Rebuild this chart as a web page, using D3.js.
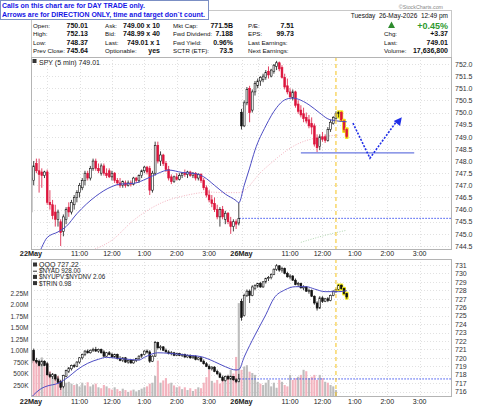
<!DOCTYPE html>
<html lang="en">
<head>
<meta charset="utf-8">
<script src="https://d3js.org/d3.v7.min.js"></script>
<title>SPY 5 min</title>
<style>
  body { margin: 0; background: #fff; }
  svg { display: block; font-family: "Liberation Sans", Arial, sans-serif; }
  .pre { white-space: pre; }
</style>
</head>
<body>
<svg width="480" height="406"></svg>
<script>
// ---- data ----
// bar index 0..77 = 22May 9:30..15:55, 78.. = 26May 9:30.. (5 min bars)
var dayLabels = ["22May", "11:00", "12:00", "1:00", "2:00", "3:00", "26May", "11:00", "12:00", "1:00", "2:00", "3:00"];
var dayLabelIdx = [0, 18, 30, 42, 54, 66, 78, 96, 108, 120, 132, 144];
var gridIdx = [6, 18, 30, 42, 54, 66, 78, 84, 96, 108, 120, 132, 144];

// SPY [open, high, low, close]
var spyBars = [
  [745.9,747.5,745.6,747.3],[747.2,748.0,747.0,747.8],[747.9,748.1,747.5,747.6],[747.6,748.1,746.7,747.45],
  [747.55,747.7,746.9,747.4],[747.4,747.6,747.3,747.55],[747.55,747.65,746.2,746.3],[746.3,746.8,746.0,746.2],
  [746.2,746.4,745.6,745.75],[745.9,746.2,745.3,745.6],[745.6,746.0,745.3,745.9],[745.5,745.6,744.5,745.05],
  [745.1,745.8,744.9,745.7],[745.6,746.1,745.4,746.0],[746.1,746.3,745.7,745.9],[745.9,746.4,745.8,746.3],
  [746.2,746.6,746.0,746.5],[746.5,746.8,746.3,746.7],[746.7,747.1,746.5,747.0],[746.9,747.3,746.8,747.2],
  [747.2,747.6,747.0,747.5],[747.5,747.6,747.2,747.3],[747.3,747.8,747.2,747.7],[747.7,748.1,747.6,748.0],
  [748.0,748.1,747.6,747.7],[747.7,747.9,747.5,747.6],[747.5,747.9,747.4,747.8],[747.8,747.9,747.4,747.5],
  [747.5,747.7,747.3,747.4],[747.6,747.7,747.3,747.35],[747.35,747.6,747.2,747.5],[747.5,747.55,747.1,747.2],
  [747.2,747.3,747.0,747.1],[747.1,747.3,746.9,747.0],[747.0,747.2,746.9,747.15],[747.1,747.2,746.9,747.0],
  [747.0,747.2,746.95,747.1],[747.1,747.2,746.95,747.05],[747.05,747.35,747.0,747.3],[747.3,747.35,747.1,747.2],
  [747.2,747.45,747.1,747.4],[747.4,747.65,747.3,747.6],[747.6,747.8,747.5,747.75],[747.75,747.8,747.45,747.55],
  [747.7,747.8,746.6,746.8],[746.8,747.6,746.7,747.5],[747.5,748.8,747.4,748.65],[748.65,748.8,747.9,748.0],
  [748.0,748.4,747.8,748.25],[748.25,748.3,747.8,747.9],[747.9,748.0,747.55,747.65],[747.65,747.8,747.2,747.3],
  [747.35,747.45,747.05,747.15],[747.15,747.4,747.1,747.35],[747.35,747.5,747.2,747.25],[747.25,747.5,747.2,747.4],
  [747.4,747.55,747.3,747.5],[747.5,747.65,747.35,747.45],[747.45,747.6,747.3,747.55],[747.55,747.6,747.35,747.4],
  [747.4,747.55,747.3,747.5],[747.5,747.55,747.2,747.3],[747.3,747.5,747.2,747.45],[747.45,747.5,747.1,747.2],
  [747.2,747.3,746.8,746.9],[746.9,747.0,746.5,746.6],[746.6,746.8,746.3,746.4],[746.4,746.6,746.1,746.25],
  [746.25,746.5,745.9,746.0],[746.0,746.2,745.6,745.7],[745.7,746.1,745.3,746.0],[746.0,746.15,745.6,745.7],
  [745.6,745.95,745.4,745.85],[745.85,745.9,745.4,745.5],[745.5,745.7,745.0,745.3],[745.3,745.6,745.1,745.5],
  [745.5,745.6,745.2,745.4],[745.45,746.3,745.35,745.64],
  [750.01,750.15,749.3,749.45],[749.45,750.5,749.4,750.4],[750.4,751.05,750.3,750.95],[751.0,751.1,749.6,750.0],
  [750.1,750.95,750.0,750.85],[750.85,751.3,750.7,751.2],[751.1,751.4,751.0,751.3],[751.3,751.5,751.1,751.45],
  [751.35,751.6,751.25,751.5],[751.45,751.75,751.35,751.65],[751.7,751.9,751.4,751.55],[751.5,751.8,751.45,751.75],
  [751.7,752.0,751.6,751.95],[751.9,752.13,751.75,752.05],[752.05,752.1,751.7,751.8],[751.85,751.95,751.4,751.45],
  [751.45,751.6,750.95,751.05],[751.1,751.4,750.75,750.85],[750.85,751.0,750.55,750.65],[750.6,750.95,750.5,750.85],
  [750.85,750.9,750.2,750.3],[750.35,750.5,749.95,750.05],[750.1,750.3,749.8,749.9],[749.95,750.2,749.6,749.75],
  [749.8,750.0,749.55,749.65],[749.7,749.9,749.35,749.45],[749.55,749.8,749.1,749.4],[749.45,749.55,748.6,748.7],
  [748.95,749.1,748.37,748.55],[748.6,749.1,748.45,749.0],[749.0,749.2,748.8,748.9],[749.0,749.1,748.75,748.85],
  [748.85,749.4,748.8,749.3],[749.3,749.7,749.2,749.6],[749.55,749.85,749.5,749.8],[749.75,750.05,749.7,749.95],
  [749.95,750.05,749.8,750.0],[750.0,750.05,749.65,749.7],[749.65,749.7,749.2,749.3],[749.3,749.35,748.95,749.01]
];

// QQQ [open, high, low, close]
var qqqBars = [
  [719.4,721.0,719.2,720.9],[720.9,721.1,719.6,719.7],[719.7,720.0,719.3,719.5],[719.6,719.8,719.0,719.1],
  [719.2,719.7,719.0,719.6],[719.6,719.7,719.0,719.1],[719.3,719.5,717.9,718.0],[718.0,718.3,717.6,717.8],
  [717.8,718.2,717.5,718.0],[718.0,718.1,717.3,717.5],[717.5,717.8,716.9,717.1],[717.2,717.4,716.2,716.5],
  [716.6,718.0,716.4,717.9],[717.8,718.6,717.7,718.5],[718.4,718.9,718.2,718.8],[718.7,719.2,718.5,719.1],
  [719.1,719.3,718.8,719.0],[719.0,719.6,718.9,719.5],[719.5,720.1,719.3,720.0],[720.0,720.5,719.8,720.4],
  [720.4,720.9,720.2,720.8],[720.8,721.0,720.5,720.6],[720.6,721.0,720.5,720.9],[720.9,721.2,720.7,721.0],
  [721.0,721.3,720.7,720.8],[720.8,721.1,720.6,721.0],[721.0,721.1,720.5,720.6],[720.7,720.9,720.1,720.2],
  [720.2,720.7,720.1,720.6],[720.6,720.8,720.3,720.4],[720.4,720.6,720.0,720.1],[720.1,720.5,720.0,720.4],
  [720.4,720.5,719.8,719.9],[719.9,720.2,719.6,719.7],[719.7,720.1,719.5,720.0],[720.0,720.1,719.4,719.5],
  [719.5,719.8,719.3,719.7],[719.7,719.8,719.3,719.4],[719.4,719.8,719.3,719.7],[719.7,720.0,719.5,719.9],
  [719.9,720.3,719.7,720.2],[720.2,720.5,720.0,720.4],[720.4,720.9,720.3,720.8],[720.8,721.0,720.5,720.7],
  [720.7,720.9,719.4,719.6],[719.6,720.3,719.5,720.2],[720.2,722.0,720.1,721.8],[721.8,721.9,721.0,721.2],
  [721.2,721.5,720.9,721.3],[721.3,721.4,720.8,720.9],[720.9,721.1,720.6,720.7],[720.7,720.9,720.4,720.5],
  [720.5,720.8,720.3,720.6],[720.6,720.7,720.2,720.3],[720.3,720.6,720.2,720.5],[720.5,720.6,720.2,720.3],
  [720.3,720.5,720.1,720.4],[720.4,720.5,720.0,720.1],[720.1,720.4,720.0,720.3],[720.3,720.4,719.9,720.0],
  [720.0,720.3,719.9,720.2],[720.2,720.3,719.7,719.8],[719.8,720.1,719.7,720.0],[720.0,720.1,719.5,719.6],
  [719.6,719.8,719.2,719.3],[719.3,719.5,718.9,719.0],[719.0,719.2,718.6,718.7],[718.7,719.0,718.5,718.9],
  [718.9,719.0,718.3,718.4],[718.4,718.6,718.0,718.1],[718.1,718.3,717.6,717.7],[717.7,717.9,717.2,717.3],
  [717.3,717.9,717.2,717.8],[717.8,718.0,717.4,717.5],[717.5,717.9,717.4,717.8],[717.8,717.85,717.3,717.4],
  [717.4,717.6,717.0,717.2],[717.2,718.1,717.1,717.5],
  [726.7,727.0,724.4,724.8],[725.0,727.6,724.9,727.4],[727.4,728.1,727.2,727.9],[727.9,728.1,726.5,727.4],
  [727.4,728.6,727.3,728.4],[728.2,728.7,728.0,728.6],[728.5,728.9,728.3,728.8],[728.8,729.0,728.3,728.4],
  [728.4,729.1,728.3,729.0],[729.0,729.5,728.8,729.4],[729.4,729.7,729.1,729.5],[729.5,730.0,729.3,729.9],
  [729.9,730.6,729.8,730.5],[730.5,731.1,730.3,730.9],[730.9,731.0,730.2,730.4],[730.4,730.8,730.1,730.6],
  [730.6,730.7,729.9,730.0],[730.0,730.2,729.5,729.6],[729.6,729.9,729.3,729.7],[729.7,729.8,729.1,729.2],
  [729.2,729.4,728.6,728.7],[728.7,729.0,728.4,728.8],[728.8,728.9,728.2,728.3],[728.3,728.6,728.0,728.4],
  [728.4,728.5,727.8,727.9],[727.9,728.2,727.6,728.0],[728.0,728.1,727.2,727.3],[727.3,727.4,726.3,726.5],
  [726.5,726.7,725.6,725.9],[725.9,727.3,725.8,727.1],[727.1,727.3,726.5,726.7],[726.7,727.1,726.6,727.0],
  [727.0,727.2,726.6,726.8],[726.8,727.5,726.7,727.4],[727.4,728.0,727.3,727.9],[727.9,728.2,727.7,728.1],
  [728.1,728.7,728.0,728.6],[728.6,728.7,728.1,728.2],[728.2,728.3,727.5,727.6],[727.6,727.7,727.0,727.22]
];

// volume, millions
var volume = [
  0.62,0.95,0.78,0.70,0.85,0.65,0.72,0.55,0.50,0.42,
  0.45,0.35,0.40,0.30,0.32,0.28,0.25,0.27,0.22,0.30,
  0.24,0.31,0.22,0.26,0.28,0.20,0.18,0.25,0.22,0.18,
  0.15,0.20,0.16,0.12,0.17,0.14,0.10,0.13,0.15,0.11,
  0.14,0.17,0.20,0.22,0.28,0.30,0.45,0.78,0.30,0.35,
  0.40,0.28,0.30,0.24,0.20,0.22,0.16,0.20,0.14,0.18,
  0.12,0.16,0.20,0.18,0.30,0.42,0.58,0.34,0.30,0.36,
  0.28,0.38,0.42,0.45,0.58,0.50,0.86,2.03,
  0.58,0.65,0.68,0.54,0.51,0.47,0.32,0.28,0.25,0.30,
  0.36,0.22,0.30,0.19,0.36,0.32,0.25,0.22,0.47,0.36,
  0.40,0.43,0.47,0.58,0.55,0.40,0.43,0.47,0.36,0.47,
  0.40,0.32,0.30,0.25,0.22,0.14
];

// moving averages (bar index, value)
var spyMaIdx = [2, 4, 6, 10, 13, 17, 24, 30, 33, 38, 43, 47, 51, 56, 61, 64, 68, 72, 76, 77, 79, 81, 83, 87, 91, 94, 97, 99, 103, 107, 110, 113, 117];
var spyMaVal = [743.9, 744.45, 744.85, 745.08, 745.3, 745.83, 746.55, 746.95, 747.05, 747.08, 747.28, 747.49, 747.63, 747.53, 747.48, 747.35, 747.0, 746.64, 746.37, 746.28, 747.0, 747.71, 748.45, 749.45, 750.2, 750.52, 750.6, 750.55, 750.32, 749.98, 749.74, 749.66, 749.62];
var spyMa2Idx = [22, 30, 38, 48, 58, 66, 72, 77, 86, 98, 110, 114];
var spyMa2Val = [744.3, 744.74, 745.56, 746.26, 746.6, 746.72, 746.7, 746.7, 747.63, 748.66, 749.03, 749.07];
var spyMa3Idx = [100, 110, 117];
var spyMa3Val = [744.65, 744.97, 745.15];
var qqqMaIdx = [0, 4, 6, 10, 14, 17, 21, 25, 28, 32, 36, 40, 42, 47, 51, 57, 63, 68, 72, 76, 77, 79, 83, 87, 90, 94, 98, 102, 105, 109, 114, 117];
var qqqMaVal = [715.3, 716.4, 716.66, 716.98, 717.77, 718.56, 719.35, 719.83, 720.06, 719.94, 719.83, 719.74, 720.06, 720.6, 720.54, 720.34, 720.14, 719.54, 718.95, 718.56, 718.6, 720.1, 722.7, 725.1, 727.05, 728.04, 728.43, 728.43, 728.16, 727.84, 727.84, 727.95];

var spyPrevClose = 745.64;
var qqqPrevClose = 717.5;
var nowIdx = 113;
var supportIdx = [100, 142];
var supportPrice = 748.34;
var arrowIdx = [119.3, 125.6, 137.4];
var arrowPrice = [749.56, 748.12, 749.81];

var spyTicks = d3.range(744.5, 752.01, 0.5);
var qqqTicks = d3.range(716, 732, 1);
var volTicks = [0.25, 0.5, 0.75, 1.0, 1.25, 1.5, 1.75, 2.0, 2.25];

// header table
var colA = [["Open:", "750.01"], ["High:", "752.13"], ["Low:", "748.37"], ["Prev Close:", "745.64"]];
var colB = [["Ask:", "749.00 x 10"], ["Bid:", "748.99 x 40"], ["Last:", "749.01 x 1"], ["Optionable:", "yes"]];
var colC = [["Mkt Cap:", "771.5B"], ["Fwd Dividend:", "7.188"], ["Fwd Yield:", "0.96%"], ["SCTR (ETF):", "73.5"]];
var colD = [["P/E:", "7.51"], ["EPS:", "99.73"], ["Last Earnings:", ""], ["Next Earnings:", ""]];
var colE = [["", ""], ["Chg:", "+3.37"], ["Last:", "749.01"], ["Volume:", "17,636,800"]];
var legendLow = ["QQQ 727.22", "$NYAD 928.00", "$NYUPV:$NYDNV 2.06", "$TRIN 0.98"];

// ---- drawing ----
var svg = d3.select("svg");
var L = 31, R = 452;
var mainTop = 57, mainBot = 250, lowTop = 259, lowBot = 397;

var x = d3.scaleLinear().domain([0, 156]).range([L, R]);
var ySpy = d3.scaleLinear().domain([744.5, 752]).range([246, 64]);
var yQqq = d3.scaleLinear().domain([716, 731]).range([391.6, 265]);
var yVol = d3.scaleLinear().domain([0, 2.25]).range([396.5, 293]);

svg.append("rect").attr("width", 480).attr("height", 406).attr("fill", "#fff");

var defs = svg.append("defs");
defs.append("clipPath").attr("id", "clipMain").append("rect")
  .attr("x", L).attr("y", mainTop).attr("width", R - L).attr("height", mainBot - mainTop);
defs.append("clipPath").attr("id", "clipLow").append("rect")
  .attr("x", L).attr("y", lowTop).attr("width", R - L).attr("height", lowBot - lowTop);

// header box
svg.append("rect").attr("x", L + 0.5).attr("y", 10.5).attr("width", R - L - 1).attr("height", mainTop - 10)
  .attr("fill", "#fff").attr("stroke", "#c8c8c8");

var hdr = svg.append("g").attr("font-size", 6.2).attr("fill", "#111");
var rowY = [27.5, 36, 44.5, 53];
function headerCol(rows, lx, vx) {
  rows.forEach(function (r, i) {
    hdr.append("text").attr("x", lx).attr("y", rowY[i]).text(r[0]);
    hdr.append("text").attr("x", vx).attr("y", rowY[i]).attr("text-anchor", "end")
      .attr("font-weight", "bold").attr("font-size", 7).text(r[1]);
  });
}
headerCol(colA, 33, 88);
headerCol(colB, 105, 160);
headerCol(colC, 173, 233);
headerCol(colD, 248, 294);
headerCol(colE, 384, 448);

hdr.append("text").attr("class", "pre").attr("x", 448).attr("y", 18).attr("text-anchor", "end")
  .attr("font-size", 6.5).text("Tuesday  26-May-2026  12:49 pm");
hdr.append("path").attr("d", "M388,28L391.5,21.5L395,28Z").attr("fill", "#2e8b2e");
hdr.append("text").attr("x", 448).attr("y", 28.5).attr("text-anchor", "end")
  .attr("font-weight", "bold").attr("font-size", 9).attr("fill", "#2f9a2f").text("+0.45%");
svg.append("text").attr("x", 443).attr("y", 9).attr("text-anchor", "end")
  .attr("font-size", 5.3).attr("fill", "#888").text("\u00A9StockCharts.com");

// blue note box
svg.append("rect").attr("x", 0.5).attr("y", 0.5).attr("width", 208).attr("height", 19)
  .attr("fill", "#fff").attr("stroke", "#7b8fc4");
var note = svg.append("g").attr("font-weight", "bold").attr("font-size", 6.95).attr("fill", "#1515e6");
note.append("text").attr("x", 2).attr("y", 8).text("Calls on this chart are for DAY TRADE only.");
note.append("text").attr("x", 2).attr("y", 16.5).text("Arrows are for DIRECTION ONLY, time and target don`t count.");

// panel backgrounds + grids
function panel(top, bot, yScale, ticks, clipId) {
  var g = svg.append("g");
  g.append("rect").attr("x", L).attr("y", top).attr("width", R - L).attr("height", bot - top).attr("fill", "#fff");
  var grid = g.append("g").attr("clip-path", "url(#" + clipId + ")")
    .attr("stroke", "#d9d9d9").attr("stroke-dasharray", "1,2").attr("stroke-width", 0.8);
  grid.selectAll("line.h").data(ticks).join("line").attr("class", "h")
    .attr("x1", L).attr("x2", R)
    .attr("y1", function (d) { return Math.round(yScale(d)) + 0.5; })
    .attr("y2", function (d) { return Math.round(yScale(d)) + 0.5; });
  grid.selectAll("line.v").data(gridIdx).join("line").attr("class", "v")
    .attr("y1", top).attr("y2", bot)
    .attr("x1", function (d) { return Math.round(x(d)) + 0.5; })
    .attr("x2", function (d) { return Math.round(x(d)) + 0.5; });
  return g;
}
panel(mainTop, mainBot, ySpy, spyTicks, "clipMain");
panel(lowTop, lowBot, yQqq, qqqTicks, "clipLow");

// right axes
function rightAxis(scale, ticks, fmt) {
  var ax = svg.append("g").attr("transform", "translate(" + R + ",0)")
    .call(d3.axisRight(scale).tickValues(ticks).tickFormat(fmt).tickSize(0).tickPadding(3));
  ax.select(".domain").remove();
  ax.selectAll("text").attr("font-size", 7).attr("font-family", "Liberation Sans, Arial, sans-serif").attr("fill", "#333");
}
rightAxis(ySpy, spyTicks, d3.format(".1f"));
rightAxis(yQqq, qqqTicks, d3.format("d"));

var vax = svg.append("g").attr("transform", "translate(" + (L - 1) + ",0)")
  .call(d3.axisLeft(yVol).tickValues(volTicks)
    .tickFormat(function (v) { return v >= 1 ? v.toFixed(2) + "M" : Math.round(v * 1000) + "K"; })
    .tickSize(0).tickPadding(1.5));
vax.select(".domain").remove();
vax.selectAll("text").attr("font-size", 6.5).attr("font-family", "Liberation Sans, Arial, sans-serif").attr("fill", "#333");

// time labels
function timeLabels(yBase) {
  svg.append("g").selectAll("text").data(dayLabels).join("text")
    .attr("x", function (d, i) { return x(dayLabelIdx[i]); })
    .attr("y", yBase).attr("text-anchor", "middle")
    .attr("font-size", function (d) { return /May/.test(d) ? 7.3 : 7; })
    .attr("font-weight", function (d) { return /May/.test(d) ? "bold" : "normal"; })
    .attr("fill", "#222").text(function (d) { return d; });
}
timeLabels(256);
timeLabels(404);

// volume (colour follows the QQQ bar)
var pVol = svg.append("g").attr("clip-path", "url(#clipLow)");
pVol.selectAll("rect").data(volume).join("rect")
  .attr("x", function (d, i) { return x(i) - 1.05; })
  .attr("width", 2.1)
  .attr("y", function (d) { return yVol(d); })
  .attr("height", function (d) { return yVol(0) - yVol(d); })
  .attr("fill", function (d, i) {
    return qqqBars[i][3] < qqqBars[i][0] ? "#f3b3be" : "#bdbdbd";
  });

// moving average lines
function maLine(g, idx, vals, yScale, color, dash, w) {
  var pts = idx.map(function (d, i) { return [d, vals[i]]; });
  g.append("path").datum(pts)
    .attr("d", d3.line().x(function (d) { return x(d[0]); }).y(function (d) { return yScale(d[1]); }).curve(d3.curveMonotoneX))
    .attr("fill", "none").attr("stroke", color).attr("stroke-width", w)
    .attr("stroke-dasharray", dash);
}

var pMain = svg.append("g").attr("clip-path", "url(#clipMain)");
var pLow = svg.append("g").attr("clip-path", "url(#clipLow)");

maLine(pMain, spyMa2Idx, spyMa2Val, ySpy, "#f2a9b8", "1,1.5", 0.9);
maLine(pMain, spyMa3Idx, spyMa3Val, ySpy, "#a9d4a9", "1,1.5", 0.9);

// prev close dotted lines
pMain.append("line").attr("x1", x(77.2)).attr("x2", R)
  .attr("y1", ySpy(spyPrevClose)).attr("y2", ySpy(spyPrevClose))
  .attr("stroke", "#3a4ff0").attr("stroke-width", 1).attr("stroke-dasharray", "1.5,1.5");
pLow.append("line").attr("x1", x(77.2)).attr("x2", R)
  .attr("y1", yQqq(qqqPrevClose)).attr("y2", yQqq(qqqPrevClose))
  .attr("stroke", "#3a4ff0").attr("stroke-width", 1).attr("stroke-dasharray", "1.5,1.5");

// candles
function candles(g, bars, yScale, useRed) {
  var cg = g.append("g");
  bars.forEach(function (b, i) {
    var o = b[0], h = b[1], l = b[2], c = b[3];
    var prev = i > 0 ? bars[i - 1][3] : o;
    var col = useRed ? (c >= prev ? "#111" : "#dc143c") : "#111";
    var hollow = c >= o;
    var xc = x(i);
    var top = yScale(Math.max(o, c)), bot = yScale(Math.min(o, c));
    if (bot - top < 1) { bot = top + 1; }
    if (i >= 114) {
      cg.append("rect").attr("x", xc - 1.9).attr("y", yScale(h) - 1)
        .attr("width", 3.8).attr("height", yScale(l) - yScale(h) + 2)
        .attr("fill", "#f4ea1a").attr("rx", 1);
    }
    cg.append("line").attr("x1", xc).attr("x2", xc).attr("y1", yScale(h)).attr("y2", yScale(l))
      .attr("stroke", col).attr("stroke-width", 0.8);
    cg.append("rect").attr("x", xc - 0.9).attr("width", 1.8)
      .attr("y", top).attr("height", bot - top)
      .attr("fill", hollow ? "#fff" : col)
      .attr("stroke", col).attr("stroke-width", 0.6);
  });
}
candles(pMain, spyBars, ySpy, true);
candles(pLow, qqqBars, yQqq, false);

maLine(pMain, spyMaIdx, spyMaVal, ySpy, "#4d4dc4", null, 1);
maLine(pLow, qqqMaIdx, qqqMaVal, yQqq, "#4d4dc4", null, 1);

// now line
[[mainTop, mainBot], [lowTop, lowBot]].forEach(function (r) {
  svg.append("line").attr("x1", x(nowIdx)).attr("x2", x(nowIdx)).attr("y1", r[0]).attr("y2", r[1])
    .attr("stroke", "#f5c21b").attr("stroke-width", 1).attr("stroke-dasharray", "4,3");
});

// support line + direction arrow
pMain.append("line").attr("x1", x(supportIdx[0])).attr("x2", x(supportIdx[1]))
  .attr("y1", ySpy(supportPrice)).attr("y2", ySpy(supportPrice))
  .attr("stroke", "#6a78e0").attr("stroke-width", 1.3);
var apts = arrowIdx.map(function (d, i) { return [x(d), ySpy(arrowPrice[i])]; });
pMain.append("path").attr("d", d3.line()(apts.slice(0, 2).concat([[apts[2][0] - 4.5, apts[2][1] + 3.2]])))
  .attr("fill", "none").attr("stroke", "#1f2ee8").attr("stroke-width", 1.6).attr("stroke-dasharray", "2,1.5");
var a1 = apts[1], a2 = apts[2];
var ang = Math.atan2(a2[1] - a1[1], a2[0] - a1[0]) * 180 / Math.PI;
pMain.append("path").attr("d", "M0,0L-8,-4L-8,4Z")
  .attr("transform", "translate(" + a2[0] + "," + a2[1] + ") rotate(" + ang + ")")
  .attr("fill", "#1f2ee8");

// panel borders
svg.append("rect").attr("x", L + 0.5).attr("y", mainTop + 0.5).attr("width", R - L - 1).attr("height", mainBot - mainTop - 1)
  .attr("fill", "none").attr("stroke", "#b4b4b4");
svg.append("rect").attr("x", L + 0.5).attr("y", lowTop + 0.5).attr("width", R - L - 1).attr("height", lowBot - lowTop - 1)
  .attr("fill", "none").attr("stroke", "#b4b4b4");

// legends
var lg = svg.append("g").attr("font-size", 6.8).attr("fill", "#222");
lg.append("rect").attr("x", 32.5).attr("y", 59).attr("width", 4).attr("height", 4).attr("fill", "#333");
lg.append("text").attr("x", 39).attr("y", 64.5).attr("font-size", 7).text("SPY (5 min) 749.01");
legendLow.forEach(function (t, i) {
  var yb = 267 + i * 6.2;
  lg.append("rect").attr("x", 33).attr("y", yb - 4.5).attr("width", 4).attr("height", i == 1 ? 1 : 4)
    .attr("transform", i == 1 ? "translate(0,2)" : null).attr("fill", "#333");
  lg.append("text").attr("x", 39).attr("y", yb).attr("font-size", i == 0 ? 7 : 6.3).text(t);
});
</script>
</body>
</html>
